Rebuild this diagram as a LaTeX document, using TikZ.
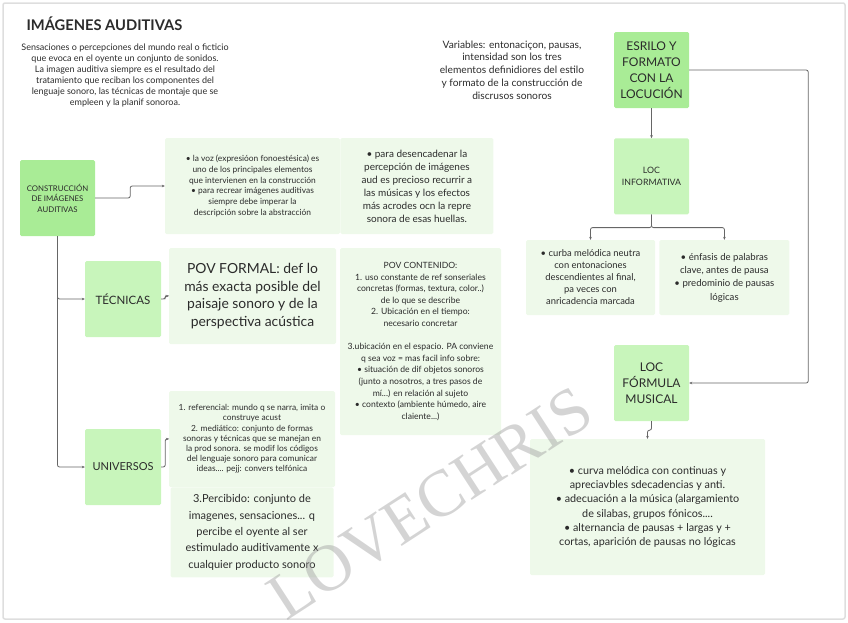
\documentclass[tikz,border=0pt]{standalone}
\usepackage{fontspec}
\setmainfont{Lato}
\newfontfamily\markfont{Liberation Serif}
\usetikzlibrary{arrows.meta,positioning}
\definecolor{boxdark}{HTML}{A9EC96}
\definecolor{boxlight}{HTML}{C8F5BB}
\definecolor{panelgreen}{HTML}{EEF9EA}
\definecolor{linegray}{HTML}{666666}
\definecolor{textgray}{HTML}{2B2B2B}
\tikzset{
	darkbox/.style={rectangle, fill=boxdark, rounded corners=1.5pt, minimum width=75pt, minimum height=76pt, inner sep=0pt, align=center, text=textgray},
	lightbox/.style={darkbox, fill=boxlight},
	panel/.style={rectangle, fill=panelgreen, rounded corners=1.5pt, inner sep=0pt, align=center, text=textgray},
	link/.style={draw=linegray, line width=0.8pt, rounded corners=2pt, -{Stealth[length=3pt,width=2.6pt]}},
	fs/.style 2 args={font=\fontsize{#1}{#2}\selectfont}
}

\begin{document}
\begin{tikzpicture}[x=1pt, y=-1pt]
    \useasboundingbox (0,0) rectangle (848,622);
    \draw [draw=black!13, line width=1.5pt, rounded corners=2pt] (3,3) rectangle (845,619);
    % cabecera
    \node (title) [anchor=west, text=textgray, font=\fontsize{14.7}{17}\selectfont\bfseries] at (23,24) {IMÁGENES AUDITIVAS};
    \node (desc) [align=center, text=textgray, fs={9}{11}] at (125,75) {Sensaciones o percepciones del mundo real o ficticio\\ que evoca en el oyente un conjunto de sonidos.\\ La imagen auditiva siempre es el resultado del\\ tratamiento que reciban los componentes del\\ lenguaje sonoro, las técnicas de montaje que se\\ empleen y la planif sonoroa.};
    \node (vars) [align=center, text=textgray, fs={10.2}{12.8}] at (512,70) {Variables: entonaciçon, pausas,\\ intensidad son los tres\\ elementos definidiores del estilo\\ y formato de la construcción de\\ discrusos sonoros};
    % locucion
    \node (esrilo) [darkbox, fs={12}{16}] at (651.5,70) {ESRILO Y\\ FORMATO\\ CON LA\\ LOCUCIÓN};
    \node (locinfo) [lightbox, below=30pt of esrilo, fs={8.8}{11.5}] {LOC\\ INFORMATIVA};
    \node (infoizq) [panel, minimum width=129pt, minimum height=75pt, fs={9.4}{12}] at (590.5,277.5) {• curba melódica neutra\\ con entonaciones\\ descendientes al final,\\ pa veces con\\ anricadencia marcada};
    \node (infoder) [panel, minimum width=130pt, minimum height=75pt, right=4pt of infoizq, fs={9.6}{13.3}] {• énfasis de palabras\\ clave, antes de pausa\\ • predominio de pausas\\ lógicas};
    \node (locmusical) [lightbox, fs={12}{16}] at (651.5,383) {LOC\\ FÓRMULA\\ MUSICAL};
    \node (musicalpanel) [panel, minimum width=235pt, minimum height=136pt, fs={10.8}{14.2}] at (647.5,507) {• curva melódica con continuas y\\ apreciavbles sdecadencias y anti.\\ • adecuación a la música (alargamiento\\ de silabas, grupos fónicos....\\ • alternancia de pausas + largas y +\\ cortas, aparición de pausas no lógicas};
    % construccion
    \node (construccion) [darkbox, fs={7.8}{10.5}] at (57.5,198) {CONSTRUCCIÓN\\ DE IMÁGENES\\ AUDITIVAS};
    \node (voz) [panel, minimum width=175pt, minimum height=96pt, fs={8.4}{10.8}] at (252.5,186) {• la voz (expresióon fonoestésica) es\\ uno de los principales elementos\\ que intervienen en la construcción\\ • para recrear imágenes auditivas\\ siempre debe imperar la\\ descripción sobre la abstracción};
    \node (recurrir) [panel, minimum width=153pt, minimum height=96pt, right=0pt of voz, fs={10}{13}] {• para desencadenar la\\ percepción de imágenes\\ aud es precioso recurrir a\\ las músicas y los efectos\\ más acrodes ocn la repre\\ sonora de esas huellas.};
    \node (tecnicas) [lightbox, minimum width=76pt, fs={11.5}{13}] at (123,299) {TÉCNICAS};
    \node (povformal) [panel, minimum width=167pt, minimum height=96pt, fs={13.9}{17.5}] at (252.5,296) {POV FORMAL: def lo\\ más exacta posible del\\ paisaje sonoro y de la\\ perspectiva acústica};
    \node (povcontenido) [panel, minimum width=161pt, minimum height=187pt, fs={8.6}{11.6}] at (420.5,341.5) {POV CONTENIDO:\\ 1. uso constante de ref sonseriales\\ concretas (formas, textura, color..)\\ de lo que se describe\\ 2. Ubicación en el tiempo:\\ necesario concretar\\[11.6pt] 3.ubicación en el espacio. PA conviene\\ q sea voz = mas facil info sobre:\\ • situación de dif objetos sonoros\\ (junto a nosotros, a tres pasos de\\ mí...) en relación al sujeto\\ • contexto (ambiente húmedo, aire\\ claiente...)};
    \node (universos) [lightbox, minimum width=76pt, fs={11}{13}] at (123,467) {UNIVERSOS};
    \node (referencial) [panel, minimum width=166pt, minimum height=96pt, fs={8.4}{10.2}] at (252,439) {1. referencial: mundo q se narra, imita o\\ construye acust\\ 2. mediático: conjunto de formas\\ sonoras y técnicas que se manejan en\\ la prod sonora. se modif los códigos\\ del lenguaje sonoro para comunicar\\ ideas.... pejj: convers telfónica};
    \node (percibido) [panel, minimum width=163pt, minimum height=90pt, below=0pt of referencial, fs={11}{16.3}] {3.Percibido: conjunto de\\ imagenes, sensaciones... q\\ percibe el oyente al ser\\ estimulado auditivamente x\\ cualquier producto sonoro};
    % conectores
    \draw [link] (construccion.east) -- ++(35,0) |- (voz.west);
    \draw [link] (construccion.south) |- (tecnicas.west);
    \draw [link] (construccion.south) |- (universos.west);
    \draw [link] (tecnicas.east) -- ++(4,0) |- (povformal.west);
    \draw [link] (universos.east) -- ++(4,0) |- (referencial.west);
    \draw [link] (esrilo) -- (locinfo);
    \draw [link] (locinfo.south) -- ++(0,13) -| (infoizq.north);
    \draw [link] (locinfo.south) -- ++(0,13) -| (infoder.north);
    \draw [link] (esrilo.east) -- ++(119,0) |- (locmusical.east);
    \draw [link] (locmusical.south) -- ++(0,9) -| (musicalpanel.north);
    % marca de agua
    \node (marca) [rotate=33, text=black!40, opacity=0.42, font=\markfont\fontsize{66}{66}\selectfont] at (430,503) {LOVECHRIS};
\end{tikzpicture}
\end{document}
